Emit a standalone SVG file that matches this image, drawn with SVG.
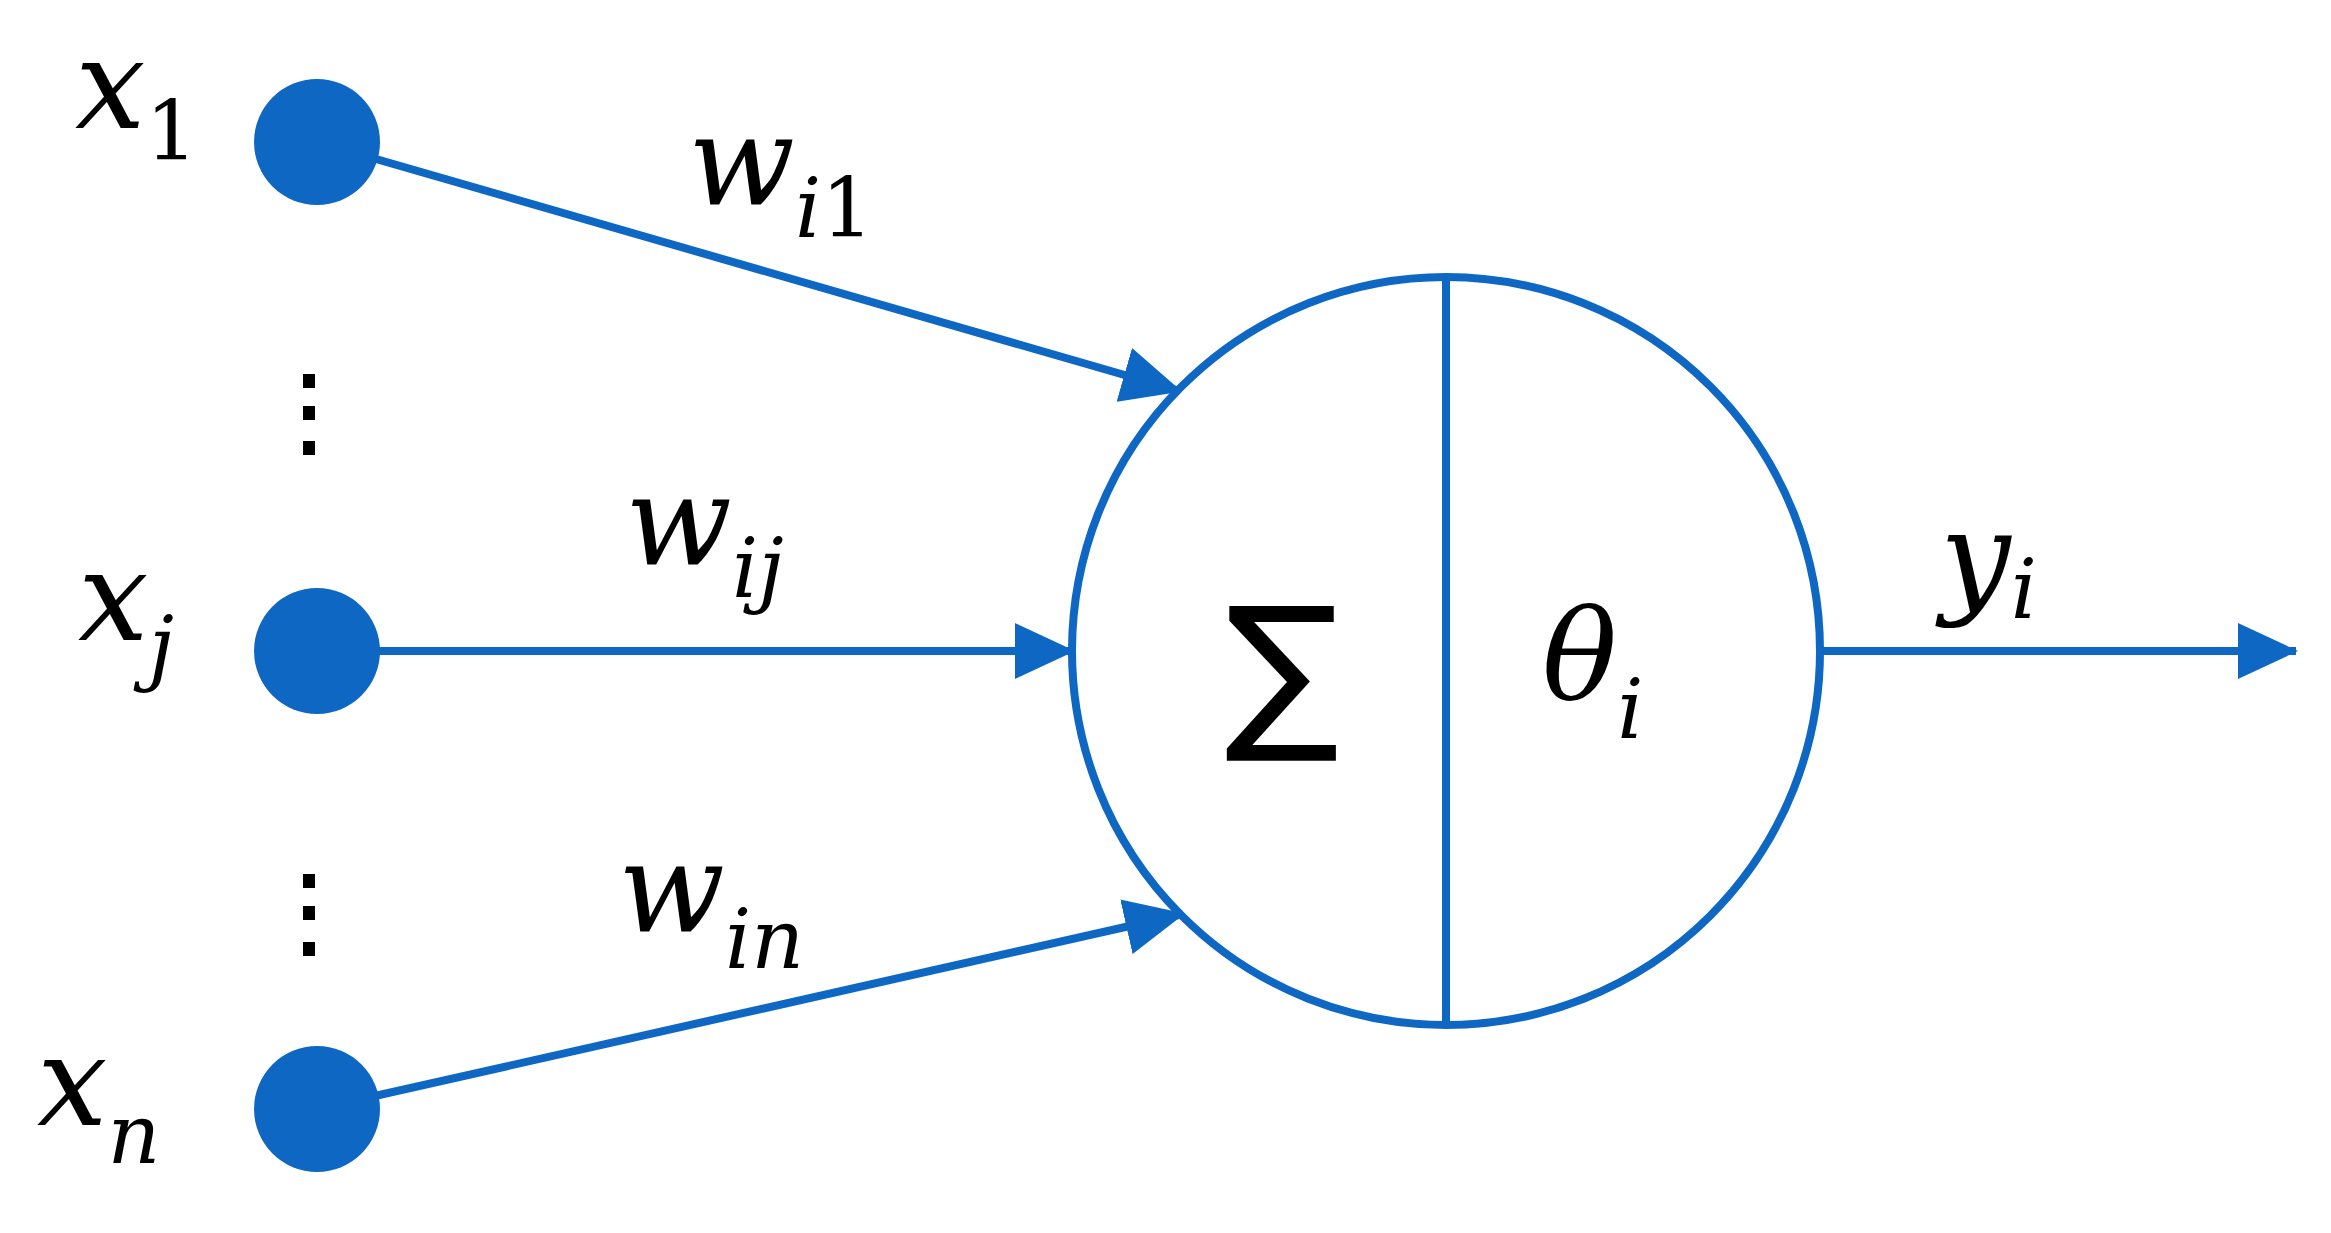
<svg xmlns="http://www.w3.org/2000/svg" width="2331" height="1233" viewBox="0 0 2331 1233">
<style>
.ln{stroke:#0e67c2;stroke-width:8;fill:none}
.dot{fill:#0e67c2}
.m{font-family:"DejaVu Serif",serif;font-style:italic;fill:#000;font-size:125px}
.s{font-size:82px}
.u{font-style:normal}
</style>
<defs>
<marker id="ah" markerUnits="userSpaceOnUse" markerWidth="60" markerHeight="56" refX="58" refY="28" orient="auto">
<path d="M0,0 L60,28 L0,56 Z" fill="#0e67c2"/>
</marker>
</defs>
<rect width="2331" height="1233" fill="#fff"/>
<g id="connectors">
<line class="ln" x1="317" y1="142" x2="1180" y2="391" marker-end="url(#ah)"/>
<line class="ln" x1="317" y1="651" x2="1073" y2="651" marker-end="url(#ah)"/>
<line class="ln" x1="317" y1="1109" x2="1183" y2="914" marker-end="url(#ah)"/>
<line class="ln" x1="1820" y1="651" x2="2296" y2="651" marker-end="url(#ah)"/>
</g>
<g id="x1"><circle class="dot" cx="317" cy="142" r="63"/>
<text class="m" x="75" y="128">x<tspan class="s u" dy="32">1</tspan></text></g>
<g id="xj"><circle class="dot" cx="317" cy="651" r="63"/>
<text class="m" x="78" y="640">x<tspan class="s" dy="35">j</tspan></text></g>
<g id="xn"><circle class="dot" cx="317" cy="1109" r="63"/>
<text class="m" x="37" y="1125">x<tspan class="s" dy="38">n</tspan></text></g>
<g id="dots" fill="#000">
<rect x="303" y="374" width="12" height="14"/><rect x="303" y="406" width="12" height="14"/><rect x="303" y="441" width="12" height="14"/>
<rect x="303" y="874" width="12" height="14"/><rect x="303" y="906" width="12" height="14"/><rect x="303" y="942" width="12" height="14"/>
</g>
<g id="weights">
<text class="m" x="688" y="205">w<tspan class="s" dy="32">i<tspan class="u">1</tspan></tspan></text>
<text class="m" x="625" y="565">w<tspan class="s" dy="32">ij</tspan></text>
<text class="m" x="618" y="932">w<tspan class="s" dy="36">in</tspan></text>
</g>
<g id="neuron">
<circle class="ln" cx="1446" cy="651" r="374"/>
<line class="ln" x1="1446" y1="277" x2="1446" y2="1025"/>
<text x="1282" y="728" text-anchor="middle" font-family="DejaVu Sans,sans-serif" font-size="170" fill="#000">∑</text>
<text class="m" x="1542" y="700">θ<tspan class="s" dy="38">i</tspan></text>
</g>
<g id="output">
<text class="m" x="1940" y="600">y<tspan class="s" dy="18">i</tspan></text>
</g>
</svg>
